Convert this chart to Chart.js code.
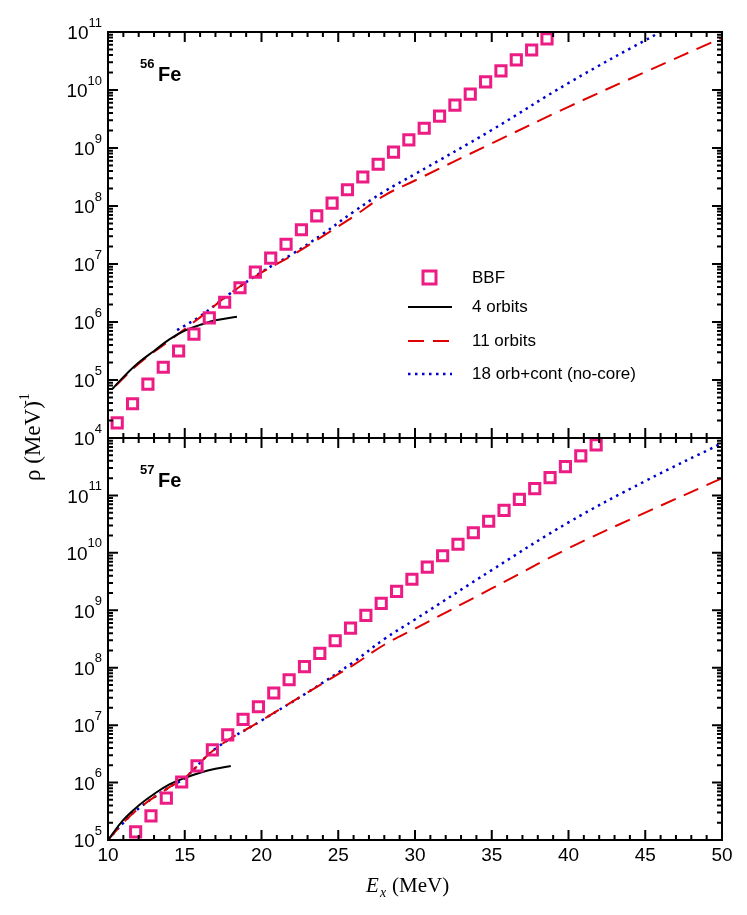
<!DOCTYPE html>
<html><head><meta charset="utf-8">
<script src="https://cdn.jsdelivr.net/npm/chart.js@4"></script>
<style>body{margin:0;background:#fff}canvas{position:absolute;left:0;top:0}</style>
</head><body>
<canvas id="c1" width="747" height="915"></canvas>
<canvas id="c2" width="747" height="915"></canvas>
<script>
// log10 values
const topBBF_x = [10.6,11.6,12.6,13.6,14.6,15.6,16.6,17.6,18.6,19.6,20.6,21.6,22.6,23.6,24.6,25.6,26.6,27.6,28.6,29.6,30.6,31.6,32.6,33.6,34.6,35.6,36.6,37.6,38.6];
const topBBF_log = [4.26,4.59,4.93,5.22,5.50,5.79,6.07,6.34,6.59,6.86,7.10,7.34,7.59,7.83,8.05,8.28,8.50,8.72,8.93,9.14,9.34,9.55,9.74,9.93,10.14,10.33,10.52,10.69,10.88];
const top4_x = [10.3,11,12,13,14,15,16,17,18.4];
const top4_log = [4.85,5.05,5.3,5.5,5.7,5.85,5.95,6.03,6.09];
const top11_x = [10.5,12,14,16,18,20,22,24,26,28,30,35,40,45,50];
const top11_log = [4.9,5.28,5.68,6.08,6.5,6.85,7.15,7.48,7.82,8.18,8.44,9.08,9.71,10.31,10.9];
const top18_x = [14.5,16,18,20,22,24,26,28,30,35,40,46,50];
const top18_log = [5.86,6.1,6.5,6.86,7.17,7.52,7.9,8.25,8.55,9.31,10.12,11.0,11.55];

const botBBF_x = [11.8,12.8,13.8,14.8,15.8,16.8,17.8,18.8,19.8,20.8,21.8,22.8,23.8,24.8,25.8,26.8,27.8,28.8,29.8,30.8,31.8,32.8,33.8,34.8,35.8,36.8,37.8,38.8,39.8,40.8,41.8];
const botBBF_log = [5.14,5.42,5.73,6.01,6.29,6.57,6.83,7.10,7.32,7.56,7.79,8.02,8.25,8.47,8.69,8.91,9.12,9.33,9.54,9.75,9.95,10.15,10.35,10.55,10.74,10.93,11.12,11.31,11.50,11.69,11.88];
const bot4_x = [10,11,12,13,14,15,16,17,18];
const bot4_log = [5.0,5.35,5.6,5.8,5.97,6.08,6.17,6.24,6.29];
const bot11_x = [10,11,12,14,15,17,20,23,26,28,30,35,40,45,50];
const bot11_log = [5.0,5.3,5.55,5.92,6.08,6.59,7.08,7.57,8.05,8.4,8.68,9.38,10.08,10.7,11.3];
const bot18_x = [10,11,12,14,15,17,20,23,26,28,30,35,40,45,50];
const bot18_log = [5.0,5.3,5.55,5.92,6.08,6.59,7.08,7.57,8.1,8.5,8.84,9.7,10.53,11.25,11.91];

const xTicks = [10,15,20,25,30,35,40,45,50];
const PINK='#ec1c84', RED='#e00000', BLUE='#0000cc';
const pts=(xs,ls)=>xs.map((x,i)=>({x,y:Math.pow(10,ls[i])}));

function frame(yMin,yMax,labelFirst,labelLast,showX,label){
 return {id:'frame',afterDraw(ch){
  const c=ch.ctx,a=ch.chartArea,xs=ch.scales.x,ys=ch.scales.y;
  c.save();c.strokeStyle='#000';c.fillStyle='#000';c.lineWidth=2;
  c.strokeRect(a.left,a.top,a.right-a.left,a.bottom-a.top);
  for(let v=10;v<=50;v++){const px=xs.getPixelForValue(v),L=v%5?5:10;
   c.beginPath();c.moveTo(px,a.bottom);c.lineTo(px,a.bottom-L);c.moveTo(px,a.top);c.lineTo(px,a.top+L);c.stroke();}
  for(let e=yMin;e<yMax;e++)for(let m=1;m<10;m++){const py=ys.getPixelForValue(m*Math.pow(10,e)),L=m==1?10:5;
   c.beginPath();c.moveTo(a.left,py);c.lineTo(a.left+L,py);c.moveTo(a.right,py);c.lineTo(a.right-L,py);c.stroke();}
  c.textBaseline='middle';
  for(let e=labelFirst;e<=labelLast;e++){const py=ys.getPixelForValue(Math.pow(10,e));
   c.font='13px "Liberation Sans"';const w=c.measureText(String(e)).width;
   c.textAlign='left';c.fillText(String(e),a.left-6-w,py-9);
   c.font='19px "Liberation Sans"';c.textAlign='right';c.fillText('10',a.left-6-w,py+2);}
  if(showX){c.font='19px "Liberation Sans"';c.textAlign='center';c.textBaseline='top';
   xTicks.forEach(v=>c.fillText(String(v),xs.getPixelForValue(v),a.bottom+6));}
  c.textBaseline='alphabetic';c.textAlign='left';
  c.font='bold 13px "Liberation Sans"';c.fillText(label[0],140,a.top+36);
  c.font='bold 20px "Liberation Sans"';c.fillText(label[1],158,a.top+49);
  c.restore();}};
}
function opts(pad,yMin,yMax){return {responsive:false,animation:false,
 layout:{padding:pad},plugins:{legend:{display:false},tooltip:{enabled:false}},
 scales:{x:{type:'linear',min:10,max:50,display:false},y:{type:'logarithmic',min:Math.pow(10,yMin),max:Math.pow(10,yMax),display:false}}};}
function sets(bx,bl,x4,l4,x11,l11,x18,l18){return [
 {data:pts(bx,bl),showLine:false,pointStyle:'rect',pointRadius:7.2,borderColor:PINK,backgroundColor:'rgba(0,0,0,0)',borderWidth:3},
 {data:pts(x4,l4),borderColor:'#000',borderWidth:2,pointRadius:0,tension:0.4},
 {data:pts(x11,l11),borderColor:RED,borderWidth:2,borderDash:[16,9],pointRadius:0,tension:0.4},
 {data:pts(x18,l18),borderColor:BLUE,borderWidth:2.5,borderDash:[2.5,4.5],pointRadius:0,tension:0.4}];}

const legend={id:'leg',afterDraw(ch){const c=ch.ctx;c.save();
 c.font='17px "Liberation Sans"';c.fillStyle='#000';c.textBaseline='middle';
 c.strokeStyle=PINK;c.lineWidth=3;c.strokeRect(423,271,13,13);c.fillText('BBF',472,278);
 const L=(y,col,d,w,t)=>{c.strokeStyle=col;c.lineWidth=w;c.setLineDash(d);c.beginPath();c.moveTo(408,y);c.lineTo(452,y);c.stroke();c.setLineDash([]);c.fillText(t,472,y);};
 L(307,'#000',[],2,'4 orbits');L(341,RED,[16,9],2,'11 orbits');L(374,BLUE,[2.5,4.5],2.5,'18 orb+cont (no-core)');
 c.restore();}};

const titles={id:'ttl',afterDraw(ch){const c=ch.ctx;c.save();c.fillStyle='#000';
 c.font='italic 21px "Liberation Serif"';c.textAlign='left';c.fillText('E',366,892);
 c.font='italic 14px "Liberation Serif"';c.fillText('x',380,897);
 c.font='21px "Liberation Serif"';c.fillText('(MeV)',392,892);
 c.translate(40,437);c.rotate(-Math.PI/2);c.textAlign='left';
 c.font='23px "Liberation Serif"';c.fillText('ρ (MeV)',-44,0);
 c.font='14px "Liberation Serif"';c.fillText('-1',32,-11);
 c.restore();}};

new Chart(document.getElementById('c1'),{type:'line',
 data:{datasets:sets(topBBF_x,topBBF_log,top4_x,top4_log,top11_x,top11_log,top18_x,top18_log)},
 options:opts({left:108,right:25,top:32,bottom:477},4,11),plugins:[frame(4,11,4,11,false,['56','Fe']),legend]});
new Chart(document.getElementById('c2'),{type:'line',
 data:{datasets:sets(botBBF_x,botBBF_log,bot4_x,bot4_log,bot11_x,bot11_log,bot18_x,bot18_log)},
 options:opts({left:108,right:25,top:438,bottom:75},5,12),plugins:[frame(5,12,5,11,true,['57','Fe']),titles]});
</script></body></html>
